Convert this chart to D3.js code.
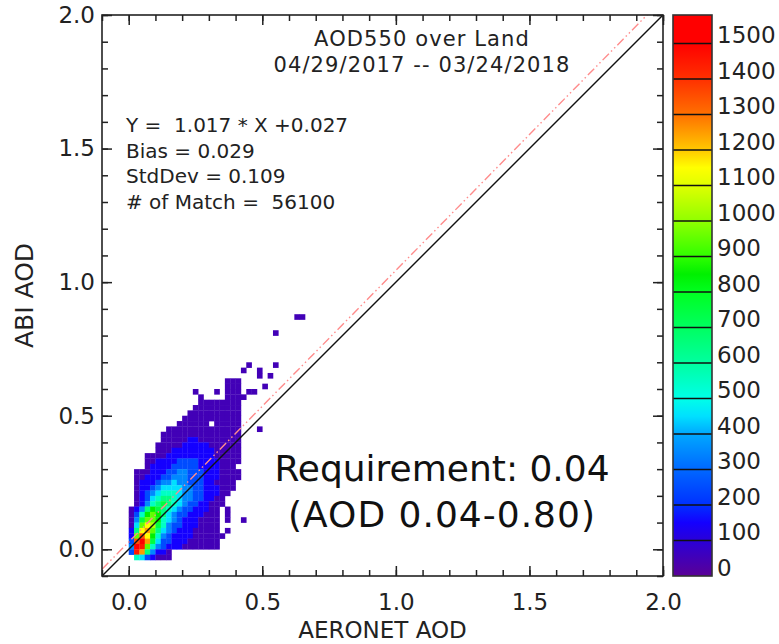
<!DOCTYPE html>
<html>
<head>
<meta charset="utf-8">
<script src="https://cdn.jsdelivr.net/npm/d3@7"></script>
<style>
  body { margin: 0; background: #fff; }
  svg { display: block; font-family: "DejaVu Sans", sans-serif; }
  text { white-space: pre; }
</style>
</head>
<body>
<svg width="779" height="644"></svg>
<script>
// axis ticks
const majorTicks = [0.0, 0.5, 1.0, 1.5, 2.0]
const minorTicks = [-0.1, 0.0, 0.1, 0.2, 0.3, 0.4, 0.5, 0.6, 0.7, 0.8, 0.9, 1.0,
                    1.1, 1.2, 1.3, 1.4, 1.5, 1.6, 1.7, 1.8, 1.9, 2.0]
const colorbarTicks = [0, 100, 200, 300, 400, 500, 600, 700, 800, 900, 1000,
                       1100, 1200, 1300, 1400, 1500]

// color table (count -> color)
const cmapValues = [0, 100, 150, 200, 300, 400, 450, 500, 600, 700, 800, 850, 900,
                    1000, 1100, 1150, 1200, 1300, 1400, 1500, 1580]
const cmapColors = ["#5a0096", "#2a00d8", "#1400ff", "#0030ff", "#0068ff", "#00a8ff",
                    "#00e0ff", "#00ffe8", "#00ffa0", "#00ff60", "#00ff20", "#00f000",
                    "#30ff00", "#90ff00", "#e0ff00", "#ffff00", "#ffc800", "#ff7000",
                    "#ff3000", "#ff0000", "#ff0000"]

// 2D histogram, bins of 0.02 AOD; one row per ABI bin from 0.86 down to -0.04
// char = count level in hundreds ('.' = empty, '0' = 0-100 ... 'F' = 1500+)
const binSize = 0.02
const firstColumnX = 0.0
const firstRowY = 0.86
const densityRows = [
  "...............................00",
  "",
  "",
  "...........................0",
  "",
  "",
  "",
  "",
  "",
  "......................0....0",
  ".....................0..0",
  "........................0.0",
  "..................000",
  "..................000....0",
  "............0...0.000.00",
  ".............0....0000",
  ".............00000000",
  "............000000000",
  "...........0000000000",
  "..........00000000000",
  ".........000000.00000",
  ".......00000000000000...0",
  "......000000000000000",
  "......000001100000000",
  ".....0000011111000000",
  ".....0001111111100000",
  "...000011111111100000",
  "...001111222211110000",
  "...01111222221111000",
  ".00011122332221110000",
  ".00111223332221110000",
  ".0111233433222110000",
  ".0112344443322111000",
  ".012345554332211100",
  ".01245665433221100",
  ".01356765432211000",
  "01368765432211100.0",
  "02589864322111000.0",
  "03799854321110000.0..0",
  "049BA753221110000",
  "16BC9643211100000.0",
  "19DB85321111000000",
  "2DFC7422111000000",
  "3FE95321110000000",
  "2EC63110",
  ".5421000"
]

// fit and stats
const fitSlope = 1.017
const fitIntercept = 0.027
const titleLines = ["AOD550 over Land", "04/29/2017 -- 03/24/2018"]
const statLines = ["Y =  1.017 * X +0.027", "Bias = 0.029", "StdDev = 0.109", "# of Match =  56100"]
const noteLines = ["Requirement: 0.04", "(AOD 0.04-0.80)"]

const svg = d3.select('svg')
const plot = {left: 102, top: 15, size: 561}

const x = d3.scaleLinear().domain([-0.1, 2.0]).range([plot.left, plot.left + plot.size])
const y = d3.scaleLinear().domain([-0.1, 2.0]).range([plot.top + plot.size, plot.top])
const color = d3.scaleLinear().domain(cmapValues).range(cmapColors).interpolate(d3.interpolateRgb)

// flatten grid into cells
const cells = []
densityRows.forEach((row, r) => {
  row.split('').forEach((ch, c) => {
    if (ch === '.') return
    cells.push({
      x0: firstColumnX + c * binSize,
      y0: firstRowY - r * binSize,
      count: parseInt(ch, 16) * 100 + 50
    })
  })
})

svg.append('defs').append('clipPath').attr('id', 'plotClip')
  .append('rect')
  .attr('x', plot.left).attr('y', plot.top)
  .attr('width', plot.size).attr('height', plot.size)

const cellGroup = svg.append('g').attr('clip-path', 'url(#plotClip)')
cellGroup.selectAll('rect')
  .data(cells)
  .join('rect')
  .attr('x', d => x(d.x0))
  .attr('y', d => y(d.y0 + binSize))
  .attr('width', d => x(d.x0 + binSize) - x(d.x0) + 0.3)
  .attr('height', d => y(d.y0) - y(d.y0 + binSize) + 0.3)
  .attr('fill', d => color(d.count))

// lines
const lineGroup = svg.append('g').attr('clip-path', 'url(#plotClip)')
const line = d3.line().x(d => x(d[0])).y(d => y(d[1]))
lineGroup.append('path')
  .attr('d', line([[-0.1, fitSlope * -0.1 + fitIntercept], [2.0, fitSlope * 2.0 + fitIntercept]]))
  .attr('fill', 'none')
  .attr('stroke', '#ff8c8c')
  .attr('stroke-width', 1.4)
  .attr('stroke-dasharray', '9,3,1.5,3,1.5,3')
lineGroup.append('path')
  .attr('d', line([[-0.1, -0.1], [2.0, 2.0]]))
  .attr('fill', 'none')
  .attr('stroke', '#111')
  .attr('stroke-width', 1.4)

// axes
function styleAxis(g) {
  g.select('.domain').remove()
  g.selectAll('line').attr('stroke', '#222').attr('stroke-width', 1.5)
  g.selectAll('text').attr('fill', '#222').style('font-size', '23px')
    .style('font-family', '"DejaVu Sans", sans-serif')
}
const fmt = d3.format('.1f')
const bottom = plot.top + plot.size
const right = plot.left + plot.size

svg.append('g').attr('transform', `translate(0,${bottom})`)
  .call(d3.axisBottom(x).tickValues(minorTicks).tickSize(-6).tickFormat(''))
  .call(styleAxis)
svg.append('g').attr('transform', `translate(0,${bottom})`)
  .call(d3.axisBottom(x).tickValues(majorTicks).tickSize(-10).tickPadding(18).tickFormat(fmt))
  .call(styleAxis)
svg.append('g').attr('transform', `translate(0,${plot.top})`)
  .call(d3.axisTop(x).tickValues(minorTicks).tickSize(-6).tickFormat(''))
  .call(styleAxis)
svg.append('g').attr('transform', `translate(0,${plot.top})`)
  .call(d3.axisTop(x).tickValues(majorTicks).tickSize(-10).tickFormat(''))
  .call(styleAxis)
svg.append('g').attr('transform', `translate(${plot.left},0)`)
  .call(d3.axisLeft(y).tickValues(minorTicks).tickSize(-6).tickFormat(''))
  .call(styleAxis)
svg.append('g').attr('transform', `translate(${plot.left},0)`)
  .call(d3.axisLeft(y).tickValues(majorTicks).tickSize(-10).tickPadding(7).tickFormat(fmt))
  .call(styleAxis)
svg.append('g').attr('transform', `translate(${right},0)`)
  .call(d3.axisRight(y).tickValues(minorTicks).tickSize(-6).tickFormat(''))
  .call(styleAxis)
svg.append('g').attr('transform', `translate(${right},0)`)
  .call(d3.axisRight(y).tickValues(majorTicks).tickSize(-10).tickFormat(''))
  .call(styleAxis)

svg.append('rect')
  .attr('x', plot.left).attr('y', plot.top)
  .attr('width', plot.size).attr('height', plot.size)
  .attr('fill', 'none').attr('stroke', '#222').attr('stroke-width', 1.6)

// axis titles
svg.append('text')
  .attr('x', plot.left + plot.size / 2).attr('y', 638)
  .attr('text-anchor', 'middle')
  .style('font-size', '23px').attr('fill', '#222')
  .text('AERONET AOD')
svg.append('text')
  .attr('transform', `translate(33,${plot.top + plot.size / 2}) rotate(-90)`)
  .attr('text-anchor', 'middle')
  .style('font-size', '25px').attr('fill', '#222')
  .text('ABI AOD')

// titles inside plot
svg.append('g').selectAll('text')
  .data(titleLines)
  .join('text')
  .attr('x', 422).attr('y', (d, i) => 46 + i * 26)
  .attr('text-anchor', 'middle')
  .style('font-size', '21px').style('letter-spacing', '1.1px')
  .attr('fill', '#222')
  .text(d => d)

svg.append('g').selectAll('text')
  .data(statLines)
  .join('text')
  .attr('x', 126).attr('y', (d, i) => 132 + i * 25.5)
  .style('font-size', '20px')
  .attr('fill', '#222')
  .text(d => d)

svg.append('g').selectAll('text')
  .data(noteLines)
  .join('text')
  .attr('x', 442).attr('y', (d, i) => 481 + i * 46)
  .attr('text-anchor', 'middle')
  .style('font-size', '36px')
  .style('letter-spacing', (d, i) => i === 1 ? '1px' : '0px')
  .attr('fill', '#111')
  .text(d => d)

// colorbar
const cb = {left: 673, width: 39}
const cbScale = d3.scaleLinear().domain([0, 1580]).range([bottom, plot.top])
const grad = svg.select('defs').append('linearGradient')
  .attr('id', 'cbGrad').attr('x1', 0).attr('y1', 1).attr('x2', 0).attr('y2', 0)
grad.selectAll('stop')
  .data(cmapValues)
  .join('stop')
  .attr('offset', d => d / 1580)
  .attr('stop-color', (d, i) => cmapColors[i])

svg.append('rect')
  .attr('x', cb.left).attr('y', plot.top)
  .attr('width', cb.width).attr('height', plot.size)
  .attr('fill', 'url(#cbGrad)')
svg.append('g').selectAll('line')
  .data(colorbarTicks.slice(1))
  .join('line')
  .attr('x1', cb.left).attr('x2', cb.left + cb.width)
  .attr('y1', d => cbScale(d)).attr('y2', d => cbScale(d))
  .attr('stroke', '#111').attr('stroke-width', 1.5)
svg.append('rect')
  .attr('x', cb.left).attr('y', plot.top)
  .attr('width', cb.width).attr('height', plot.size)
  .attr('fill', 'none').attr('stroke', '#333').attr('stroke-width', 1.6)
svg.append('g').selectAll('text')
  .data(colorbarTicks)
  .join('text')
  .attr('x', cb.left + cb.width + 5)
  .attr('y', d => cbScale(d))
  .style('font-size', '23px')
  .attr('fill', '#222')
  .text(d => d)
</script>
</body>
</html>
